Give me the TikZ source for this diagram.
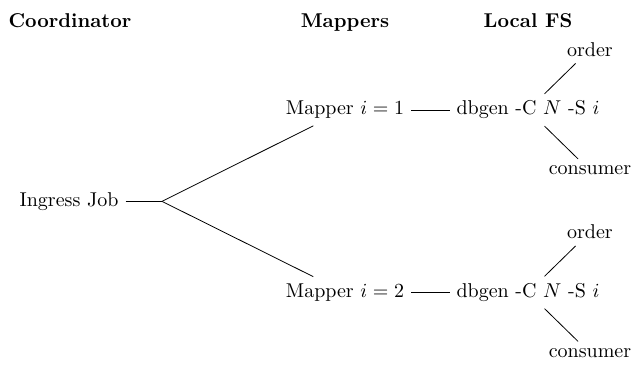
\documentclass[tikz,border=0pt]{standalone}
\usepackage{tikz}
\usetikzlibrary{calc}

\begin{document}
\begin{tikzpicture}[
  head/.style={font=\bfseries, anchor=base},
  job/.style={inner sep=0.333em},
  lnk/.style={draw=black, line width=0.4pt}
]
  \useasboundingbox (0,0) rectangle (11.124,6.414);

  % column headers
  \node[head] (hcoord) at (1.230,5.922) {Coordinator};
  \node[head] (hmap) at (6.063,5.922) {Mappers};
  \node[head] (hfs) at (9.279,5.922) {Local FS};

  % coordinator
  \node[job] (ingress) at (1.213,2.875) {Ingress Job};
  \coordinate (fork) at (2.847,2.875);

  % mappers
  \node[job] (map1) at (6.063,4.481) {Mapper $i=1$};
  \node[job] (map2) at (6.063,1.274) {Mapper $i=2$};

  % local file systems
  \node[job] (gen1) at (9.279,4.481) {dbgen -C $N$ -S $i$};
  \node[job] (gen2) at (9.279,1.274) {dbgen -C $N$ -S $i$};
  \node[job] (ord1) at (10.368,5.546) {order};
  \node[job] (con1) at (10.368,3.416) {consumer};
  \node[job] (ord2) at (10.368,2.339) {order};
  \node[job] (con2) at (10.368,0.209) {consumer};

  \draw[lnk] (ingress) -- (fork);
  \draw[lnk] (fork) -- (map1);
  \draw[lnk] (fork) -- (map2);
  \draw[lnk] (map1) -- (gen1);
  \draw[lnk] (map2) -- (gen2);
  \draw[lnk] (gen1) -- (ord1);
  \draw[lnk] (gen1) -- (con1);
  \draw[lnk] (gen2) -- (ord2);
  \draw[lnk] (gen2) -- (con2);
\end{tikzpicture}
\end{document}
